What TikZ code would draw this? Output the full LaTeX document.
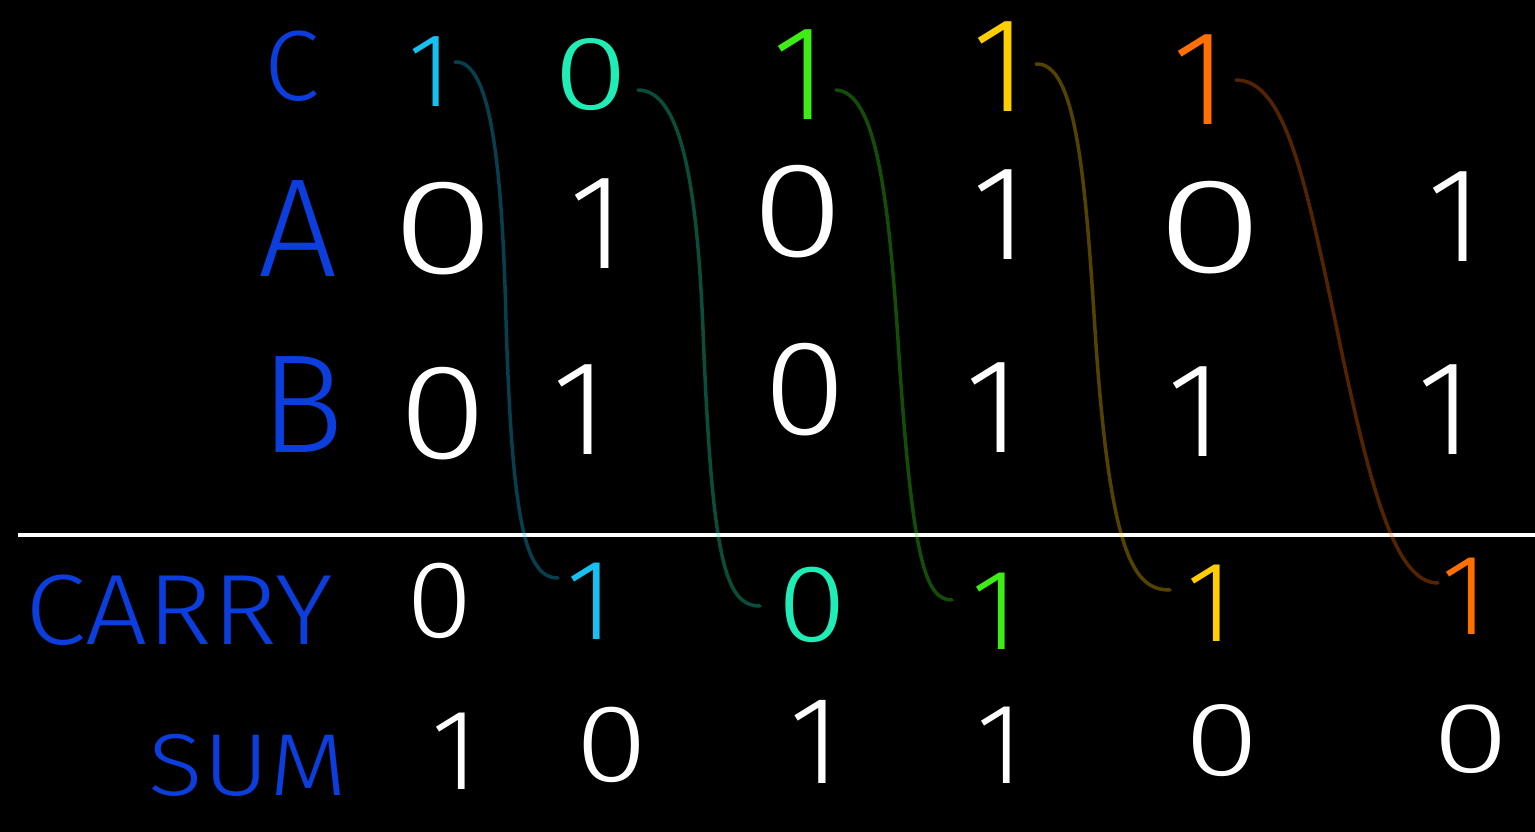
\documentclass[tikz,border=0pt]{standalone}
\usepackage{fontspec}
\usepackage{graphicx}
\newfontfamily\hand{Fira Sans Light}
\newcommand\wzero[1]{\scalebox{#1}[1]{0}}
\definecolor{lblue}{RGB}{12,62,222}
\definecolor{ccyan}{RGB}{22,192,240}
\definecolor{caqua}{RGB}{32,236,182}
\definecolor{cgreen}{RGB}{62,236,22}
\definecolor{cyell}{RGB}{255,206,0}
\definecolor{corng}{RGB}{255,112,0}
\tikzset{
  dig/.style={inner sep=0pt, text=white, font=\hand\fontsize{135}{135}\selectfont},
  smalldig/.style={dig, font=\hand\fontsize{105}{105}\selectfont},
  lbl/.style={inner sep=0pt, text=lblue, font=\hand\fontsize{140}{140}\selectfont},
  carrylink/.style={line width=3.5pt, opacity=0.33, line cap=round},
  rule/.style={draw=white, line width=4pt}
}
\begin{document}
\begin{tikzpicture}[x=1pt,y=-1pt]
\fill[black] (0,0) rectangle (1535,832);
\useasboundingbox (0,0) rectangle (1535,832);
% labels
\node[lbl, font=\hand\fontsize{100}{100}\selectfont] (lC) at (292,66) {C};
\node[lbl] (lA) at (298,229) {A};
\node[lbl] (lB) at (302,405) {B};
\node[lbl, font=\hand\fontsize{100}{100}\selectfont] (lCarry) at (179,610) {\scalebox{1.1}[1]{CARRY}};
\node[lbl, font=\hand\fontsize{88}{88}\selectfont] (lSum) at (248,765) {\scalebox{1.15}[1]{SUM}};
% carry row (top)
\node[smalldig, text=ccyan] (c1) at (430,72) {1};
\node[smalldig, text=caqua] (c2) at (591,75) {\wzero{1.3}};
\node[dig, text=cgreen] (c3) at (800,75) {1};
\node[dig, text=cyell] (c4) at (1000,67) {1};
\node[dig, text=corng] (c5) at (1200,80) {1};
% row A
\node[dig] (a1) at (443,229) {\wzero{1.4}};
\node[dig] (a2) at (597,224) {1};
\node[dig] (a3) at (798,212) {\wzero{1.25}};
\node[dig] (a4) at (1000,215) {1};
\node[dig] (a5) at (1210,228) {\wzero{1.45}};
\node[dig] (a6) at (1455,217) {1};
% row B
\node[dig] (b1) at (443,414) {\wzero{1.2}};
\node[dig] (b2) at (580,410) {1};
\node[dig] (b3) at (805,390) {\wzero{1.12}};
\node[dig] (b4) at (993,408) {1};
\node[dig] (b5) at (1195,412) {1};
\node[dig] (b6) at (1445,410) {1};
% rule
\coordinate (rl) at (18,535);
\coordinate (rr) at (1535,535);
\draw[rule] (rl) -- (rr);
% carry row (bottom)
\node[dig, font=\hand\fontsize{110}{110}\selectfont] (k1) at (440,601) {\wzero{1.1}};
\node[dig, text=ccyan, font=\hand\fontsize{115}{115}\selectfont] (k2) at (590,601) {1};
\node[dig, text=caqua, font=\hand\fontsize{110}{110}\selectfont] (k3) at (812,605) {\wzero{1.15}};
\node[dig, text=cgreen, font=\hand\fontsize{115}{115}\selectfont] (k4) at (995,611) {1};
\node[dig, text=cyell, font=\hand\fontsize{115}{115}\selectfont] (k5) at (1210,603) {1};
\node[dig, text=corng, font=\hand\fontsize{115}{115}\selectfont] (k6) at (1465,596) {1};
% sum row
\node[dig, font=\hand\fontsize{115}{115}\selectfont] (s1) at (455,751) {1};
\node[dig, font=\hand\fontsize{110}{110}\selectfont] (s2) at (612,745) {\wzero{1.2}};
\node[dig, font=\hand\fontsize{125}{125}\selectfont] (s3) at (815,742) {1};
\node[dig, font=\hand\fontsize{115}{115}\selectfont] (s4) at (1000,745) {1};
\node[dig, font=\hand\fontsize{105}{105}\selectfont] (s5) at (1222,741) {\wzero{1.3}};
\node[dig, font=\hand\fontsize{100}{100}\selectfont] (s6) at (1471,739) {\wzero{1.4}};
% carry links
\coordinate (p1) at (455,62);   \coordinate (q1) at (558,578);
\coordinate (p2) at (638,90);   \coordinate (q2) at (760,606);
\coordinate (p3) at (836,90);   \coordinate (q3) at (952,600);
\coordinate (p4) at (1036,64);  \coordinate (q4) at (1170,590);
\coordinate (p5) at (1236,80);  \coordinate (q5) at (1438,583);
\draw[carrylink, draw=ccyan] (p1) .. controls (490,60) and (502,160) .. (506,320) .. controls (512,520) and (525,578) .. (q1);
\draw[carrylink, draw=caqua] (p2) .. controls (680,90) and (697,180) .. (703,330) .. controls (712,560) and (725,606) .. (q2);
\draw[carrylink, draw=cgreen] (p3) .. controls (875,92) and (888,190) .. (898,340) .. controls (912,560) and (925,600) .. (q3);
\draw[carrylink, draw=cyell] (p4) .. controls (1075,62) and (1085,170) .. (1095,330) .. controls (1110,560) and (1135,590) .. (q4);
\draw[carrylink, draw=corng] (p5) .. controls (1285,80) and (1305,180) .. (1335,320) .. controls (1370,490) and (1395,583) .. (q5);
\end{tikzpicture}
\end{document}
